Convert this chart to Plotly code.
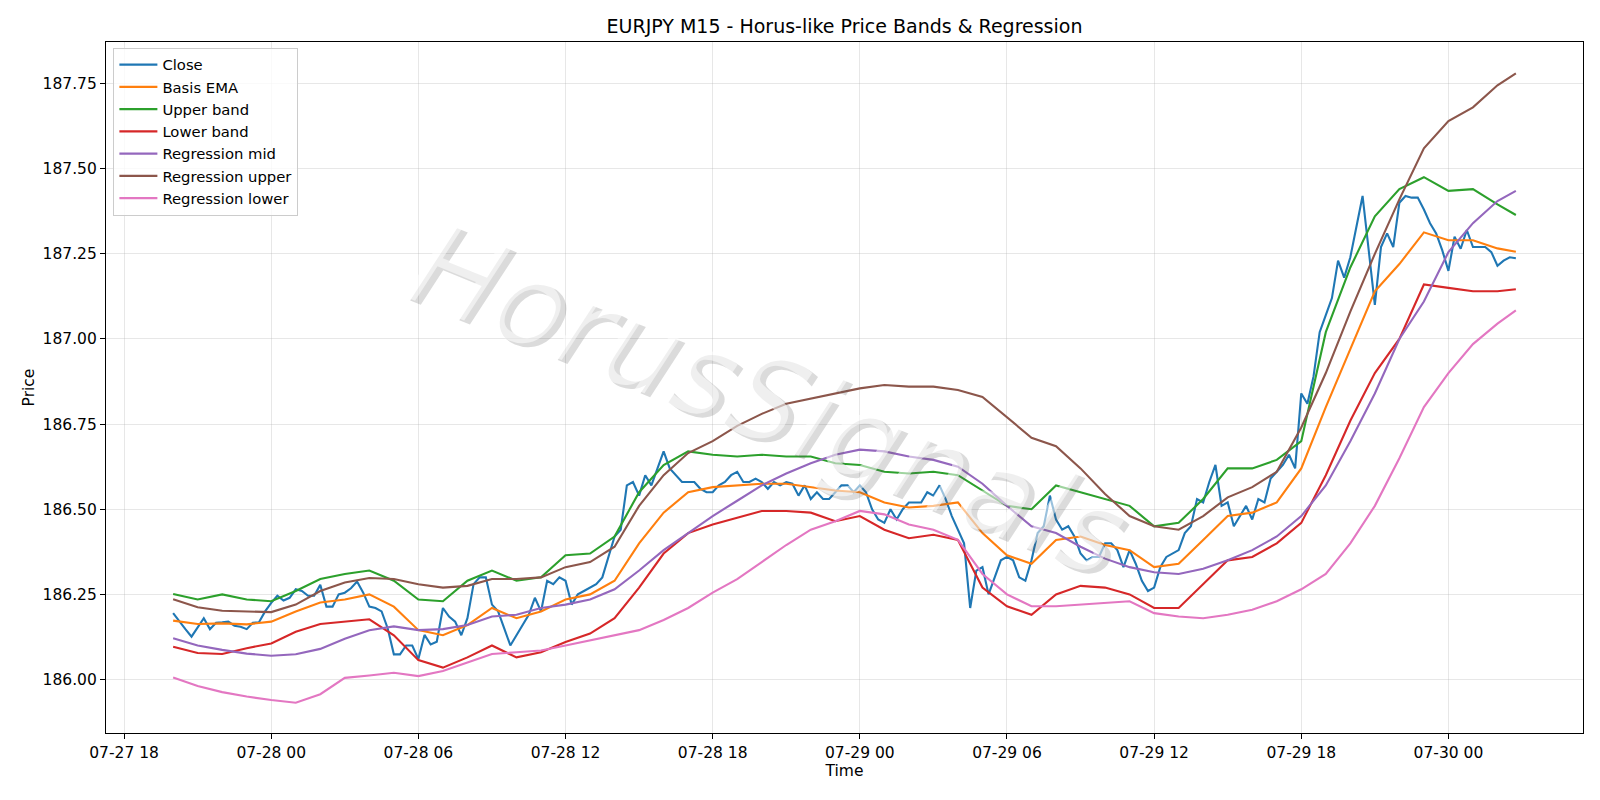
import pandas as pd
import plotly.graph_objects as go

# ---------------- data ----------------
times_15m = pd.date_range("2025-07-27 20:00", periods=220, freq="15min")
times_h = list(pd.date_range("2025-07-27 20:00", periods=55, freq="1h")) + [pd.Timestamp("2025-07-30 02:45")]

close = [
    186.195, 186.17, 186.148, 186.126, 186.152, 186.18, 186.148, 186.167, 186.168, 186.17,
    186.158, 186.155, 186.148, 186.167, 186.168, 186.20, 186.225, 186.246, 186.232, 186.24,
    186.265, 186.26, 186.246, 186.246, 186.278, 186.214, 186.214, 186.25, 186.255, 186.268,
    186.288, 186.255, 186.214, 186.21, 186.2, 186.15, 186.074, 186.074, 186.1, 186.1,
    186.06, 186.131, 186.103, 186.111, 186.21, 186.185, 186.17, 186.13, 186.18, 186.28,
    186.30, 186.30, 186.22, 186.20, 186.15, 186.10, 186.13, 186.16, 186.19, 186.24,
    186.20, 186.29, 186.28, 186.30, 186.29, 186.22, 186.25, 186.26, 186.27, 186.28,
    186.30, 186.36, 186.42, 186.44, 186.57, 186.58, 186.54, 186.60, 186.57, 186.62,
    186.67, 186.62, 186.60, 186.58, 186.58, 186.58, 186.56, 186.55, 186.55, 186.57,
    186.58, 186.60, 186.61, 186.58, 186.58, 186.59, 186.58, 186.56, 186.58, 186.57,
    186.58, 186.575, 186.54, 186.57, 186.53, 186.55, 186.53, 186.53, 186.55, 186.57,
    186.57, 186.55, 186.57, 186.55, 186.50, 186.47, 186.46, 186.50, 186.47, 186.50,
    186.52, 186.52, 186.52, 186.55, 186.54, 186.57, 186.53, 186.48, 186.44, 186.40,
    186.21, 186.32, 186.33, 186.25, 186.30, 186.35, 186.36, 186.35, 186.30, 186.29,
    186.35, 186.43, 186.45, 186.54, 186.47, 186.44, 186.45, 186.42, 186.37, 186.35,
    186.36, 186.36, 186.40, 186.40, 186.38, 186.33, 186.38, 186.34, 186.29, 186.26,
    186.27, 186.33, 186.36, 186.37, 186.38, 186.43, 186.45, 186.53, 186.52, 186.58,
    186.63, 186.51, 186.52, 186.45, 186.48, 186.51, 186.47, 186.53, 186.52, 186.59,
    186.61, 186.63, 186.66, 186.62, 186.84, 186.81, 186.89, 187.02, 187.07, 187.12,
    187.23, 187.18, 187.24, 187.33, 187.42, 187.26, 187.10, 187.27, 187.31, 187.27,
    187.40, 187.42, 187.415, 187.415, 187.38, 187.34, 187.31, 187.26, 187.20, 187.30,
    187.265, 187.32, 187.27, 187.27, 187.27, 187.255, 187.215, 187.23, 187.24, 187.237,
]

basis_ema = [
    186.173, 186.163, 186.165, 186.162, 186.17, 186.20, 186.226, 186.235, 186.25, 186.214,
    186.145, 186.13, 186.16, 186.21, 186.18, 186.20, 186.235, 186.25, 186.29, 186.40,
    186.49, 186.55, 186.565, 186.57, 186.575, 186.575, 186.565, 186.555, 186.55, 186.52,
    186.505, 186.51, 186.52, 186.43, 186.365, 186.34, 186.41, 186.42, 186.395, 186.38,
    186.33, 186.34, 186.41, 186.48, 186.49, 186.52, 186.62, 186.80, 186.97, 187.14,
    187.22, 187.313, 187.29, 187.29, 187.266, 187.256,
]

upper_band = [
    186.251, 186.235, 186.25, 186.235, 186.23, 186.26, 186.295, 186.31, 186.32, 186.29,
    186.235, 186.23, 186.29, 186.32, 186.29, 186.30, 186.365, 186.37, 186.42, 186.55,
    186.63, 186.67, 186.66, 186.655, 186.66, 186.655, 186.655, 186.635, 186.63, 186.61,
    186.605, 186.61, 186.60, 186.555, 186.51, 186.50, 186.57, 186.55, 186.53, 186.51,
    186.45, 186.46, 186.53, 186.62, 186.62, 186.645, 186.70, 187.02, 187.21, 187.36,
    187.44, 187.475, 187.435, 187.44, 187.395, 187.364,
]

lower_band = [
    186.096, 186.078, 186.075, 186.092, 186.106, 186.14, 186.163, 186.17, 186.177, 186.13,
    186.057, 186.035, 186.065, 186.10, 186.065, 186.08, 186.11, 186.135, 186.18, 186.27,
    186.37, 186.43, 186.455, 186.475, 186.495, 186.495, 186.49, 186.465, 186.48, 186.44,
    186.415, 186.425, 186.41, 186.27, 186.215, 186.19, 186.25, 186.275, 186.27, 186.25,
    186.21, 186.21, 186.28, 186.35, 186.36, 186.40, 186.46, 186.60, 186.76, 186.90,
    187.00, 187.16, 187.15, 187.14, 187.14, 187.146,
]

reg_mid = [
    186.121, 186.10, 186.087, 186.076, 186.07, 186.074, 186.09, 186.12, 186.145, 186.156,
    186.145, 186.148, 186.16, 186.185, 186.19, 186.21, 186.22, 186.235, 186.265, 186.32,
    186.38, 186.43, 186.48, 186.525, 186.57, 186.605, 186.635, 186.66, 186.675, 186.67,
    186.655, 186.645, 186.625, 186.575, 186.51, 186.45, 186.43, 186.39, 186.355, 186.33,
    186.315, 186.31, 186.325, 186.35, 186.38, 186.42, 186.48, 186.57, 186.70, 186.84,
    187.00, 187.11, 187.255, 187.34, 187.405, 187.435,
]

reg_upper = [
    186.236, 186.212, 186.202, 186.20, 186.198, 186.22, 186.26, 186.285, 186.298, 186.295,
    186.28, 186.27, 186.275, 186.295, 186.295, 186.30, 186.33, 186.345, 186.39, 186.51,
    186.60, 186.665, 186.70, 186.745, 186.78, 186.81, 186.825, 186.84, 186.855, 186.865,
    186.86, 186.86, 186.85, 186.83, 186.77, 186.71, 186.685, 186.62, 186.545, 186.48,
    186.45, 186.44, 186.48, 186.535, 186.565, 186.61, 186.74, 186.90, 187.08, 187.25,
    187.41, 187.56, 187.64, 187.68, 187.745, 187.78,
]

reg_lower = [
    186.006, 185.981, 185.963, 185.95, 185.94, 185.932, 185.957, 186.005, 186.012, 186.02,
    186.01, 186.025, 186.05, 186.075, 186.08, 186.085, 186.10, 186.115, 186.13, 186.145,
    186.175, 186.21, 186.255, 186.295, 186.345, 186.395, 186.44, 186.465, 186.495, 186.485,
    186.455, 186.44, 186.41, 186.31, 186.25, 186.215, 186.215, 186.22, 186.225, 186.23,
    186.195, 186.185, 186.18, 186.19, 186.205, 186.23, 186.265, 186.31, 186.40, 186.51,
    186.65, 186.80, 186.90, 186.985, 187.045, 187.084,
]

series = [
    ("Close", times_15m, close, "#1f77b4"),
    ("Basis EMA", times_h, basis_ema, "#ff7f0e"),
    ("Upper band", times_h, upper_band, "#2ca02c"),
    ("Lower band", times_h, lower_band, "#d62728"),
    ("Regression mid", times_h, reg_mid, "#9467bd"),
    ("Regression upper", times_h, reg_upper, "#8c564b"),
    ("Regression lower", times_h, reg_lower, "#e377c2"),
]

# ---------------- figure ----------------
fig = go.Figure()
for name, xs, ys, col in series:
    fig.add_trace(go.Scatter(x=xs, y=ys, mode="lines", name=name,
                             line=dict(color=col, width=2.1)))

FONT = "DejaVu Sans"
FS = 15.5
fig.update_layout(
    width=1600, height=800,
    paper_bgcolor="white", plot_bgcolor="white",
    margin=dict(l=106, r=17, t=42, b=67),
    font=dict(family=FONT, size=FS, color="black"),
    title=dict(text="EURJPY M15 - Horus-like Price Bands & Regression",
               x=0.5, xref="paper", xanchor="center",
               y=1 - 26 / 800, yref="container", yanchor="middle",
               font=dict(family=FONT, size=19, color="black")),
    showlegend=True,
    legend=dict(x=0.005, y=0.992, xanchor="left", yanchor="top",
                bgcolor="rgba(255,255,255,0.8)", bordercolor="#cccccc", borderwidth=1,
                font=dict(family=FONT, size=14.8), tracegroupgap=0,
                itemwidth=38),
)

fig.update_xaxes(
    type="date",
    range=["2025-07-27 17:15:45", "2025-07-30 05:29:15"],
    tick0="2025-07-27 18:00", dtick=6 * 3600 * 1000,
    tickformat="%m-%d %H",
    showgrid=True, gridcolor="rgba(176,176,176,0.3)", gridwidth=1,
    showline=True, linecolor="black", linewidth=1.1, mirror=True,
    ticks="outside", ticklen=5, tickwidth=1.1, tickcolor="black",
    tickfont=dict(family=FONT, size=FS),
    title=dict(text="Time", standoff=4, font=dict(family=FONT, size=FS)),
    zeroline=False,
)
fig.update_yaxes(
    range=[185.843, 187.872],
    tick0=186.0, dtick=0.25, tickformat=".2f",
    showgrid=True, gridcolor="rgba(176,176,176,0.3)", gridwidth=1,
    showline=True, linecolor="black", linewidth=1.1, mirror=True,
    ticks="outside", ticklen=5, tickwidth=1.1, tickcolor="black",
    tickfont=dict(family=FONT, size=FS),
    title=dict(text="Price", standoff=4, font=dict(family=FONT, size=FS)),
    zeroline=False,
)

# watermark
fig.add_annotation(text="HorusSignals", xref="paper", yref="paper",
                   x=0.452, y=0.477, showarrow=False, textangle=22,
                   font=dict(family=FONT, size=116, color="rgba(90,90,90,0.22)", style="italic"))
fig.add_annotation(text="HorusSignals", xref="paper", yref="paper",
                   x=0.448, y=0.482, showarrow=False, textangle=22,
                   font=dict(family=FONT, size=116, color="rgba(255,255,255,0.55)", style="italic"))

fig.write_html("out.html")
